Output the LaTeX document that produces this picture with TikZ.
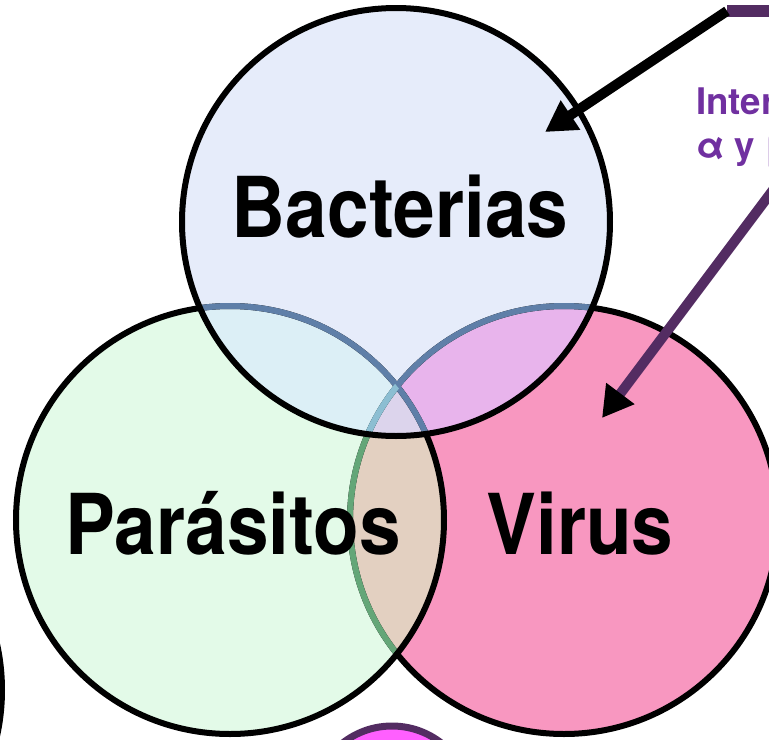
\documentclass[tikz,border=0pt]{standalone}
\usepackage{fontspec}
\setsansfont{TeX Gyre Heros}
\usetikzlibrary{arrows.meta,positioning}
\definecolor{bactfill}{HTML}{E6ECFA}
\definecolor{parafill}{HTML}{E3FAE8}
\definecolor{virfill}{HTML}{F897C0}
\definecolor{bpfill}{HTML}{DCEFF6}
\definecolor{bvfill}{HTML}{E8B4EC}
\definecolor{pvfill}{HTML}{E3D0C1}
\definecolor{bpvfill}{HTML}{DCD4EC}
\definecolor{moss}{HTML}{64A678}
\definecolor{slate}{HTML}{5F7FA8}
\definecolor{mist}{HTML}{8CBED2}
\definecolor{plum}{HTML}{532C62}
\definecolor{grape}{HTML}{7030A0}
\definecolor{orchid}{HTML}{FF5FFF}
\tikzset{rim/.style={line width=4.5pt}, setname/.style={font=\sffamily\bfseries\fontsize{63}{66}\selectfont,anchor=base,inner sep=0pt}, remark/.style={font=\sffamily\bfseries\fontsize{27.5}{33}\selectfont,text=grape,align=left,anchor=north west,inner sep=0pt}, pointer/.style={line width=7.5pt,-{Triangle[length=23pt,width=25pt]}}, plumbar/.style={anchor=west,fill=plum,minimum width=45pt,minimum height=9pt,inner sep=0pt}}

\begin{document}
\begin{tikzpicture}[x=0.75pt,y=-0.75pt]
\useasboundingbox (0,0) rectangle (769,740);
\coordinate (bc) at (396,222);
\coordinate (pc) at (230,520);
\coordinate (vc) at (564,520);
% fills of the three sets and their overlaps
\fill[virfill] (vc) circle[radius=214];
\fill[parafill] (pc) circle[radius=214];
\fill[bactfill] (bc) circle[radius=214];
\begin{scope}
\clip (pc) circle[radius=214];
\fill[pvfill] (vc) circle[radius=214];
\end{scope}
\begin{scope}
\clip (bc) circle[radius=214];
\fill[bpfill] (pc) circle[radius=214];
\fill[bvfill] (vc) circle[radius=214];
\clip (pc) circle[radius=214];
\fill[bpvfill] (vc) circle[radius=214];
\end{scope}
% outlines, tinted where they run under another set
\draw[rim] (vc) circle[radius=214];
\begin{scope}
\clip (pc) circle[radius=214];
\draw[rim,moss] (vc) circle[radius=214];
\end{scope}
\draw[rim] (pc) circle[radius=214];
\begin{scope}
\clip (bc) circle[radius=214];
\draw[rim,slate] (vc) circle[radius=214];
\draw[rim,slate] (pc) circle[radius=214];
\clip (pc) circle[radius=214];
\draw[rim,mist] (vc) circle[radius=214];
\end{scope}
\draw[rim] (bc) circle[radius=214];
\draw[rim] (-212,690) circle[radius=214];
\draw[line width=5.25pt,draw=plum,fill=orchid] (392,806) circle[radius=80];
% labels
\node[setname] (bactname) at (400,237) {\scalebox{0.89}[1]{Bacterias}};
\node[setname] (paraname) at (233,554) {\scalebox{0.89}[1]{Parásitos}};
\node[setname] (virname) at (580,554) {\scalebox{0.89}[1]{Virus}};
\node[remark] (note) at (696,87) {Inter\\α y β};
% pointers
\node[plumbar] (topbar) at (727,11) {};
\coordinate (bacttip) at (545,132);
\coordinate (virtail) at (785,174);
\coordinate (virtip) at (602,418);
\draw[pointer] (topbar.west) -- (bacttip);
\draw[pointer,draw=plum,-{Triangle[length=23pt,width=25pt,color=black]}] (virtail) -- (virtip);
\end{tikzpicture}
\end{document}
